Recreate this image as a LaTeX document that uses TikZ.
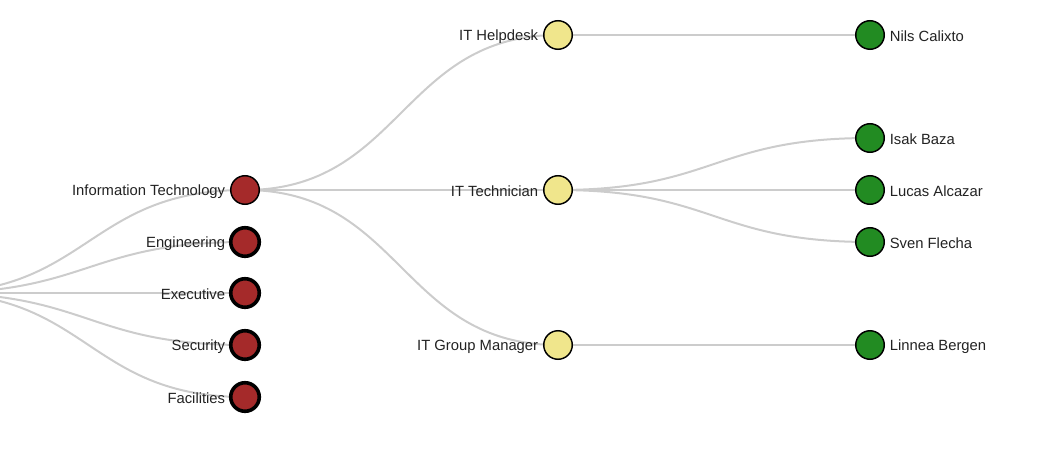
\documentclass[tikz,border=0pt]{standalone}
\usepackage{fontspec}
\setmainfont{Liberation Sans}
\usetikzlibrary{calc}
\usetikzlibrary{backgrounds}
\definecolor{dept}{HTML}{A52A2A}
\definecolor{role}{HTML}{F0E68C}
\definecolor{person}{HTML}{228B22}
\definecolor{linkgray}{HTML}{CCCCCC}
\definecolor{textgray}{HTML}{222222}
\tikzset{
	every node/.style={outer sep=0pt},
	every label/.style={inner sep=1pt, yshift=-1.2pt, text=textgray, font=\fontsize{11.1}{13}\selectfont},
	member/.style = {circle, draw, line width=1.1pt, minimum size=21.4pt, inner sep=0pt},
	folded/.style = {member, line width=2.7pt},
	link/.style = {draw=linkgray, line width=1.5pt,
		to path={let \p1=(\tikztostart), \p2=(\tikztotarget) in
			(\p1) .. controls ({(\x1+\x2)/2},\y1) and ({(\x1+\x2)/2},\y2) .. (\p2)}}
}

\begin{document}
\begin{tikzpicture}[x=0.75pt, y=-0.75pt, label distance=3.2pt]
	\useasboundingbox (0,0) rectangle (1060,460);
	
	% departments
	\coordinate (root) at (-68,293);
	\node (it) [label = left:{Information Technology}, member, fill=dept] at (245,190) {};
	\node (eng) [label = left:Engineering, folded, fill=dept] at (245,242) {};
	\node (exe) [label = left:Executive, folded, fill=dept] at (245,293) {};
	\node (sec) [label = left:Security, folded, fill=dept] at (245,345) {};
	\node (fac) [label = left:Facilities, folded, fill=dept] at (245,397) {};
	
	% roles
	\node (help) [label = left:{IT Helpdesk}, member, fill=role] at (558,35) {};
	\node (tech) [label = left:{IT Technician}, member, fill=role] at (558,190) {};
	\node (mgr) [label = left:{IT Group Manager}, member, fill=role] at (558,345) {};
	
	% people
	\node (nils) [label = right:{Nils Calixto}, member, fill=person] at (870,35) {};
	\node (isak) [label = right:{Isak Baza}, member, fill=person] at (870,138) {};
	\node (lucas) [label = right:{Lucas Alcazar}, member, fill=person] at (870,190) {};
	\node (sven) [label = right:{Sven Flecha}, member, fill=person] at (870,242) {};
	\node (linnea) [label = right:{Linnea Bergen}, member, fill=person] at (870,345) {};
	
	\begin{scope}[on background layer]
		\path (root) edge[link] (it);
		\path (root) edge[link] (eng);
		\path (root) edge[link] (exe);
		\path (root) edge[link] (sec);
		\path (root) edge[link] (fac);
		
		\path (it) edge[link] (help);
		\path (it) edge[link] (tech);
		\path (it) edge[link] (mgr);
		
		\path (help) edge[link] (nils);
		\path (tech) edge[link] (isak);
		\path (tech) edge[link] (lucas);
		\path (tech) edge[link] (sven);
		\path (mgr) edge[link] (linnea);
	\end{scope}
\end{tikzpicture}
\end{document}
